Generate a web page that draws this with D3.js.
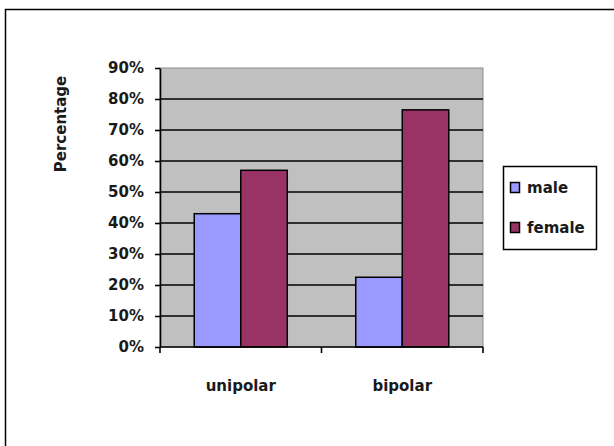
<!DOCTYPE html>
<html>
<head>
<meta charset="utf-8">
<script src="https://cdn.jsdelivr.net/npm/d3@7"></script>
<style>
  html, body { margin: 0; padding: 0; background: #fff; }
  svg { display: block; }
  text { font-family: "DejaVu Sans", Verdana, sans-serif; font-weight: bold; font-size: 15px; fill: #1a1a1a; }
</style>
</head>
<body>
<svg id="chart" width="614" height="446"></svg>
<script>
// Share of patients by sex in each disorder group (percent)
const categories = ["unipolar", "bipolar"];
const seriesNames = ["male", "female"];
const maleValues = [43, 22.5];
const femaleValues = [57, 76.5];
const yTicks = [0, 10, 20, 30, 40, 50, 60, 70, 80, 90];
const yTitle = "Percentage";

const seriesColors = { male: "#9999FF", female: "#993366" };

const svg = d3.select("#chart");

// Chart frame
svg.append("rect")
  .attr("x", 5.5).attr("y", 9.5)
  .attr("width", 640).attr("height", 460)
  .attr("fill", "#fff").attr("stroke", "#000").attr("stroke-width", 1.5);

const plot = { left: 160, right: 483, top: 68, bottom: 347 };

const x = d3.scaleBand().domain(categories).range([plot.left, plot.right]).padding(0);
const xs = d3.scaleBand().domain(seriesNames).range([0, x.bandwidth()])
  .paddingInner(0).paddingOuter(0.736);
const y = d3.scaleLinear().domain([0, 90]).range([plot.bottom, plot.top]);

// Plot area background
svg.append("rect")
  .attr("x", plot.left).attr("y", plot.top)
  .attr("width", plot.right - plot.left).attr("height", plot.bottom - plot.top)
  .attr("fill", "#C0C0C0").attr("stroke", "#8c8c8c").attr("stroke-width", 1);

// Horizontal gridlines
svg.append("g")
  .selectAll("line")
  .data(yTicks.filter(d => d > 0 && d < 90))
  .join("line")
  .attr("x1", plot.left).attr("x2", plot.right)
  .attr("y1", d => y(d)).attr("y2", d => y(d))
  .attr("stroke", "#000").attr("stroke-width", 1.6);

// Bars
const rows = categories.map((c, i) => ({ category: c, male: maleValues[i], female: femaleValues[i] }));
svg.append("g")
  .selectAll("g")
  .data(rows)
  .join("g")
  .attr("transform", d => `translate(${x(d.category)},0)`)
  .selectAll("rect")
  .data(d => seriesNames.map(s => ({ series: s, value: d[s] })))
  .join("rect")
  .attr("x", d => xs(d.series))
  .attr("width", xs.bandwidth())
  .attr("y", d => y(d.value))
  .attr("height", d => y(0) - y(d.value))
  .attr("fill", d => seriesColors[d.series])
  .attr("stroke", "#000").attr("stroke-width", 1.5);

// Y axis
const yAxis = d3.axisLeft(y)
  .tickValues(yTicks)
  .tickFormat(d => d + "%")
  .tickSizeInner(5).tickSizeOuter(0).tickPadding(11);
const gy = svg.append("g").attr("transform", `translate(${plot.left},0)`).call(yAxis);
gy.select(".domain").attr("stroke", "#000").attr("stroke-width", 1.6);
gy.selectAll(".tick line").attr("stroke", "#000").attr("stroke-width", 1.6);
gy.selectAll(".tick text")
  .attr("font-family", null).attr("font-size", null)
  .style("font-family", "'DejaVu Sans', Verdana, sans-serif")
  .style("font-size", "15px").style("font-weight", "bold").style("fill", "#1a1a1a");

// X axis: ticks sit on the category boundaries
const gx = svg.append("g").attr("transform", `translate(0,${plot.bottom})`);
gx.append("line")
  .attr("x1", plot.left).attr("x2", plot.right)
  .attr("stroke", "#000").attr("stroke-width", 1.6);
const boundaries = categories.map(c => x(c)).concat([x(categories[categories.length - 1]) + x.bandwidth()]);
gx.selectAll("line.tick")
  .data(boundaries)
  .join("line").attr("class", "tick")
  .attr("x1", d => d).attr("x2", d => d)
  .attr("y1", 0).attr("y2", 6)
  .attr("stroke", "#000").attr("stroke-width", 1.6);
gx.selectAll("text")
  .data(categories)
  .join("text")
  .attr("x", d => x(d) + x.bandwidth() / 2)
  .attr("y", 44)
  .attr("text-anchor", "middle")
  .text(d => d);

// Y axis title
svg.append("text")
  .attr("transform", "translate(66,124) rotate(-90)")
  .attr("text-anchor", "middle")
  .text(yTitle);

// Legend
const legend = svg.append("g");
legend.append("rect")
  .attr("x", 503.5).attr("y", 166.5).attr("width", 93).attr("height", 83)
  .attr("fill", "#fff").attr("stroke", "#000").attr("stroke-width", 1.5);
const items = legend.selectAll("g.item")
  .data(seriesNames)
  .join("g").attr("class", "item")
  .attr("transform", (d, i) => `translate(0,${193 + i * 40})`);
items.append("rect")
  .attr("x", 510.5).attr("y", -10.5).attr("width", 9).attr("height", 10)
  .attr("fill", d => seriesColors[d])
  .attr("stroke", "#000").attr("stroke-width", 1.5);
items.append("text")
  .attr("x", 527).attr("y", 0)
  .text(d => d);
</script>
</body>
</html>
